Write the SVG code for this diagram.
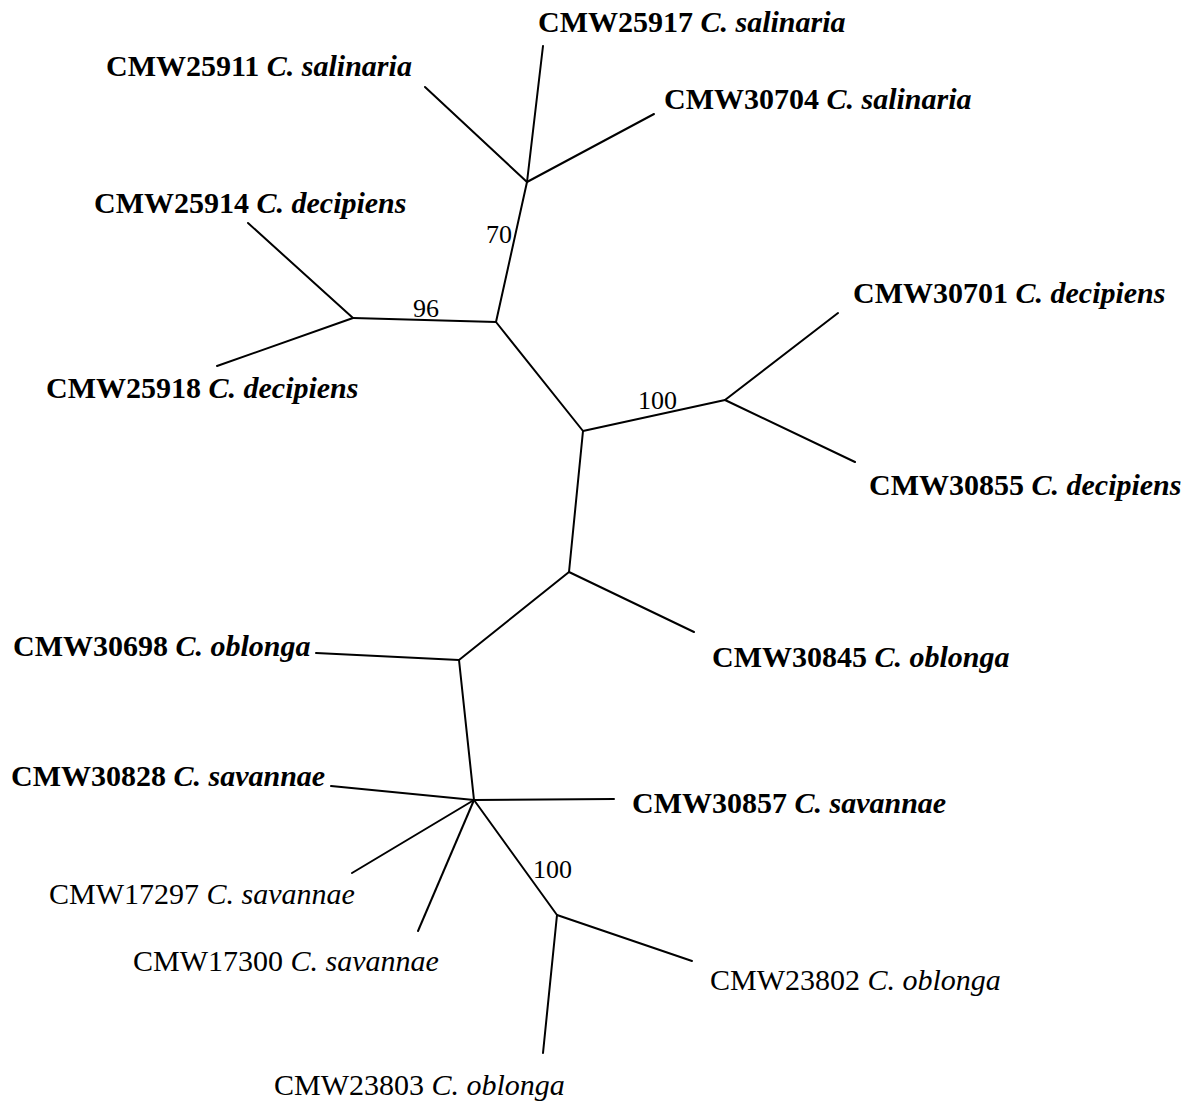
<svg xmlns="http://www.w3.org/2000/svg" width="1188" height="1102" viewBox="0 0 1188 1102">
<style>
text{font-family:"Liberation Serif","Times New Roman",serif;fill:#000}
.b{font-weight:bold;font-size:30px}
.r{font-size:30px}
.i{font-style:italic}
.n{font-size:26px}
.e line{stroke:#000;stroke-width:2;stroke-linecap:round}
</style>
<rect width="1188" height="1102" fill="#fff"/>
<g id="connectors" class="e">
<line x1="527" y1="182" x2="543" y2="46"/>
<line x1="527" y1="182" x2="425" y2="87"/>
<line x1="527" y1="182" x2="654" y2="114"/>
<line x1="527" y1="182" x2="496" y2="322"/>
<line x1="496" y1="322" x2="353" y2="318"/>
<line x1="353" y1="318" x2="248" y2="223"/>
<line x1="353" y1="318" x2="217" y2="366"/>
<line x1="496" y1="322" x2="583" y2="431"/>
<line x1="583" y1="431" x2="725" y2="400"/>
<line x1="725" y1="400" x2="838" y2="313"/>
<line x1="725" y1="400" x2="855" y2="462"/>
<line x1="583" y1="431" x2="569" y2="572"/>
<line x1="569" y1="572" x2="694" y2="632"/>
<line x1="569" y1="572" x2="459" y2="660"/>
<line x1="459" y1="660" x2="316" y2="653"/>
<line x1="459" y1="660" x2="474" y2="800"/>
<line x1="474" y1="800" x2="331" y2="786"/>
<line x1="474" y1="800" x2="614" y2="799"/>
<line x1="474" y1="800" x2="352" y2="873"/>
<line x1="474" y1="800" x2="418" y2="931"/>
<line x1="474" y1="800" x2="557" y2="915"/>
<line x1="557" y1="915" x2="692" y2="961"/>
<line x1="557" y1="915" x2="543" y2="1053"/>
</g>
<g id="support">
<text class="n" x="486" y="243">70</text>
<text class="n" x="413" y="317">96</text>
<text class="n" x="638" y="409">100</text>
<text class="n" x="533" y="878">100</text>
</g>
<g id="CMW25917"><text class="b" x="538" y="32">CMW25917 <tspan class="i">C. salinaria</tspan></text></g>
<g id="CMW25911"><text class="b" x="106" y="76">CMW25911 <tspan class="i">C. salinaria</tspan></text></g>
<g id="CMW30704"><text class="b" x="664" y="109">CMW30704 <tspan class="i">C. salinaria</tspan></text></g>
<g id="CMW25914"><text class="b" x="94" y="213">CMW25914 <tspan class="i">C. decipiens</tspan></text></g>
<g id="CMW25918"><text class="b" x="46" y="398">CMW25918 <tspan class="i">C. decipiens</tspan></text></g>
<g id="CMW30701"><text class="b" x="853" y="303">CMW30701 <tspan class="i">C. decipiens</tspan></text></g>
<g id="CMW30855"><text class="b" x="869" y="495">CMW30855 <tspan class="i">C. decipiens</tspan></text></g>
<g id="CMW30845"><text class="b" x="712" y="667">CMW30845 <tspan class="i">C. oblonga</tspan></text></g>
<g id="CMW30698"><text class="b" x="13" y="656">CMW30698 <tspan class="i">C. oblonga</tspan></text></g>
<g id="CMW30828"><text class="b" x="11" y="786">CMW30828 <tspan class="i">C. savannae</tspan></text></g>
<g id="CMW30857"><text class="b" x="632" y="813">CMW30857 <tspan class="i">C. savannae</tspan></text></g>
<g id="CMW17297"><text class="r" x="49" y="904">CMW17297 <tspan class="i">C. savannae</tspan></text></g>
<g id="CMW17300"><text class="r" x="133" y="971">CMW17300 <tspan class="i">C. savannae</tspan></text></g>
<g id="CMW23802"><text class="r" x="710" y="990">CMW23802 <tspan class="i">C. oblonga</tspan></text></g>
<g id="CMW23803"><text class="r" x="274" y="1095">CMW23803 <tspan class="i">C. oblonga</tspan></text></g>
</svg>
